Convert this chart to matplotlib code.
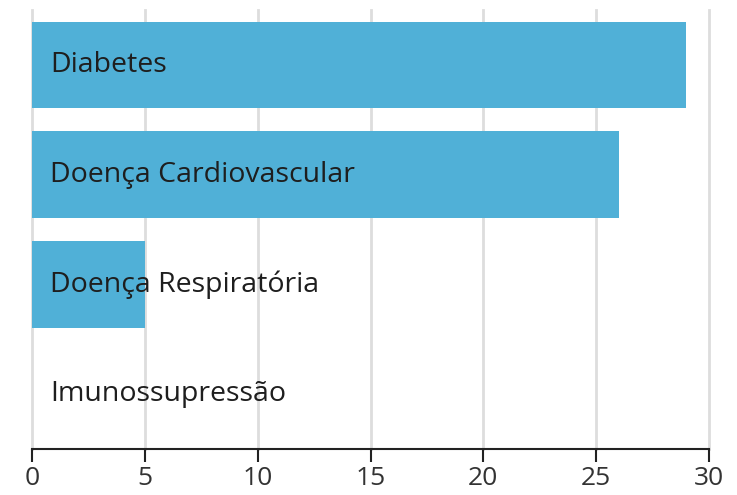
import matplotlib
matplotlib.use("Agg")
import matplotlib.pyplot as plt

# -----------------------------
# Data
# -----------------------------
categories = ["Diabetes", "Doença Cardiovascular", "Doença Respiratória", "Imunossupressão"]
values = [29, 26, 5, 0]
x_ticks = [0, 5, 10, 15, 20, 25, 30]

plt.rcParams["font.family"] = ["Open Sans", "DejaVu Sans"]

fig = plt.figure(figsize=(7.37, 4.95), dpi=100)
ax = fig.add_axes([32 / 737, 1 - 449 / 495, 677 / 737, 439 / 495])

y_pos = list(range(len(categories)))
ax.barh(y_pos, values, height=0.79, color="#50B0D7", zorder=2)

# labels inside bars, left aligned
for y, name in zip(y_pos, categories):
    ax.text(0.8, y, name, ha="left", va="center", fontsize=20.5, color="#1e1e1e", zorder=3)

ax.set_xlim(0, 30)
ax.set_ylim(len(categories) - 0.5, -0.5)
ax.set_xticks(x_ticks)
ax.set_xticklabels([str(t) for t in x_ticks], fontsize=19, color="#333333")
ax.set_yticks([])

# vertical grid lines (not clipped so the one at 30 is drawn whole)
for t in x_ticks:
    ax.axvline(t, color="#dddddd", linewidth=2, zorder=0, clip_on=False)
ax.tick_params(axis="x", length=9.5, width=1.5, color="#222222", pad=3)
for side in ["top", "right", "left"]:
    ax.spines[side].set_visible(False)
ax.spines["bottom"].set_linewidth(1.5)
ax.spines["bottom"].set_color("#222222")

plt.savefig("out.png", dpi=100)
